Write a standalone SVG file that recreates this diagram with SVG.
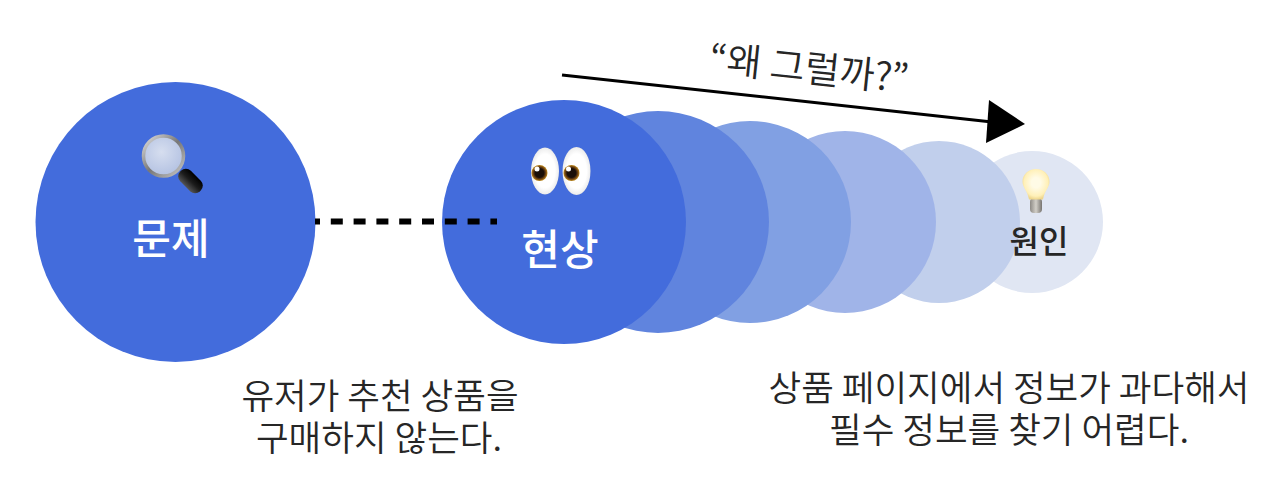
<svg xmlns="http://www.w3.org/2000/svg" width="1280" height="483" viewBox="0 0 1280 483">
<style>
text{font-family:"Noto Sans CJK KR","Noto Sans",sans-serif;text-anchor:middle}
.w{fill:#fff;font-size:42px;font-weight:500}
.k{fill:#262626;font-size:35.500px;font-weight:350}
</style>
<defs>
<radialGradient id="glass" cx="0.45" cy="0.4" r="0.6"><stop offset="0" stop-color="#d6deef"/><stop offset="1" stop-color="#b4c2e2"/></radialGradient>
<linearGradient id="rim" x1="0" y1="0" x2="1" y2="1"><stop offset="0" stop-color="#e0e0e0"/><stop offset="0.5" stop-color="#777"/><stop offset="1" stop-color="#c8c8c8"/></linearGradient>
<linearGradient id="handle" x1="0" y1="0" x2="1" y2="0"><stop offset="0" stop-color="#555"/><stop offset="0.5" stop-color="#1c1c1c"/><stop offset="1" stop-color="#000"/></linearGradient>
<radialGradient id="eye" cx="0.5" cy="0.5" r="0.55"><stop offset="0.65" stop-color="#fff"/><stop offset="0.88" stop-color="#eee"/><stop offset="1" stop-color="#b9b4ad"/></radialGradient>
<radialGradient id="iris" cx="0.5" cy="0.5" r="0.5"><stop offset="0.55" stop-color="#1a0f08"/><stop offset="0.78" stop-color="#6e4212"/><stop offset="1" stop-color="#c08c1e"/></radialGradient>
<radialGradient id="bulb" cx="0.5" cy="0.45" r="0.55"><stop offset="0.3" stop-color="#fffbe6"/><stop offset="0.8" stop-color="#fff0b8"/><stop offset="1" stop-color="#eed68c"/></radialGradient>
<linearGradient id="base" x1="0" y1="0" x2="1" y2="0"><stop offset="0" stop-color="#8d8a85"/><stop offset="0.5" stop-color="#d2cfc8"/><stop offset="1" stop-color="#77746f"/></linearGradient>
</defs>
<g id="cause-stack">
<g id="node-wonin"><circle cx="1032" cy="222" r="71" fill="#e0e6f3"/></g>
<g id="node-s4"><circle cx="939" cy="222" r="81" fill="#c1cfec"/></g>
<g id="node-s3"><circle cx="845" cy="222" r="91" fill="#a0b4e8"/></g>
<g id="node-s2"><circle cx="750" cy="222" r="101" fill="#81a0e3"/></g>
<g id="node-s1"><circle cx="658" cy="222" r="111" fill="#6084de"/></g>
</g>
<g id="node-munje">
<circle cx="175.500" cy="222" r="140" fill="#436cdc"/>
<g id="magnifier">
<rect x="-7.500" y="-14" width="15" height="28" rx="7" transform="translate(190.500,181) rotate(-45)" fill="url(#handle)"/>
<circle cx="163.500" cy="156" r="20" fill="url(#glass)" stroke="url(#rim)" stroke-width="3.500"/>
</g>
<text class="w" x="171" y="254">문제</text>
</g>
<g id="node-hyeonsang">
<circle cx="564" cy="222" r="122" fill="#436cdc"/>
<g id="eyes">
<ellipse cx="545" cy="171" rx="14" ry="23.500" fill="url(#eye)"/>
<ellipse cx="576.500" cy="171" rx="14" ry="24" fill="url(#eye)"/>
<circle cx="539.500" cy="173" r="8" fill="url(#iris)"/>
<circle cx="571.500" cy="173" r="8" fill="url(#iris)"/>
<circle cx="537" cy="169" r="2.500" fill="#fff"/>
<circle cx="568.500" cy="169" r="2.500" fill="#fff"/>
</g>
<text class="w" x="560" y="265">현상</text>
</g>
<g id="node-label-wonin">
<g id="lightbulb">
<rect x="1030" y="198" width="12" height="15" rx="4" fill="url(#base)"/>
<path d="M1036 169c-8 0-13.500 6-13.500 12.500 0 6 5 9 6.500 18h14c1.500-9 6.500-12 6.500-18 0-6.500-5.500-12.500-13.500-12.500z" fill="url(#bulb)"/>
</g>
<text x="1039" y="253" fill="#262626" font-size="32" font-weight="500">원인</text>
</g>
<g id="connectors">
<line x1="315" y1="221.500" x2="497" y2="221.500" stroke="#000" stroke-width="6" stroke-dasharray="12 10.800" stroke-dashoffset="7"/>
<line x1="562" y1="75" x2="992" y2="122" stroke="#000" stroke-width="3"/>
<polygon points="989,100 1025,124 986,143" fill="#000"/>
</g>
<g id="labels">
<text x="809" y="82" font-size="38" font-weight="350" fill="#262626" transform="rotate(6 809 69)">“왜 그럴까?”</text>
<text class="k"><tspan x="380" y="409">유저가 추천 상품을</tspan><tspan x="379" y="451">구매하지 않는다.</tspan></text>
<text class="k"><tspan x="1009" y="401">상품 페이지에서 정보가 과다해서</tspan><tspan x="1009" y="443">필수 정보를 찾기 어렵다.</tspan></text>
</g>
</svg>
